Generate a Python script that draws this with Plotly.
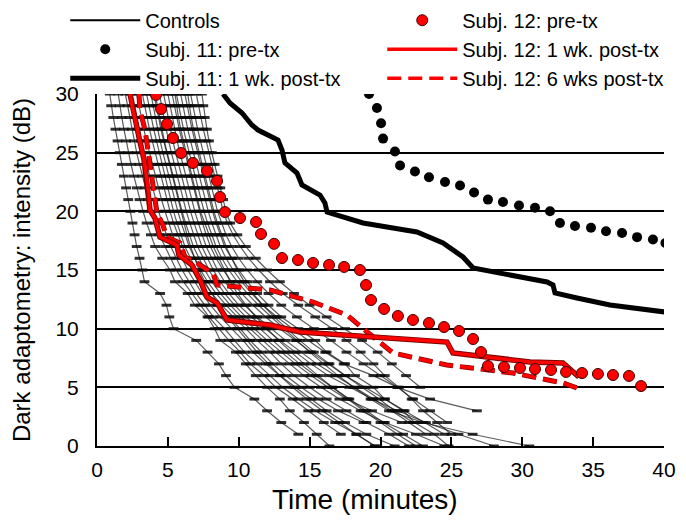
import plotly.graph_objects as go

# ---------------- data ----------------
DB_LEVELS = [30, 29, 28, 27, 26, 25, 24, 23, 22, 21, 20, 19, 18, 17, 16, 15,
             14, 13, 12, 11, 10, 9, 8, 7, 6, 5, 4, 3, 2, 1, 0]

# Control subjects: time (min) at each successive dB threshold level
controls = [
    [0.9,1.0,1.15,1.3,1.45,1.6,1.75,1.9,2.05,2.2,2.35,2.5,2.65,2.8,3.0,3.2,3.35,4.45,4.9,5.1,5.4,7.0,7.8,8.6,9.1,9.7,11.1,12.0,13.0,14.2],
    [1.5,1.6,1.75,1.9,2.05,2.2,2.4,2.6,2.8,3.0,3.25,3.5,3.8,4.1,4.6,5.15,5.5,6.4,6.9,7.8,8.3,8.7,9.8,10.5,11.2,12.0,12.9,13.6,14.6,15.5,16.4],
    [2.0,2.15,2.3,2.45,2.6,2.8,3.0,3.2,3.4,3.6,3.85,4.1,4.4,4.8,5.2,5.6,6.1,6.7,7.3,7.9,8.6,9.3,10.1,10.8,11.8,12.6,13.8,14.9,16.0,17.2],
    [2.4,2.55,2.7,2.9,3.1,3.3,3.5,3.7,3.9,4.1,4.35,4.6,4.9,5.2,5.6,6.0,6.5,7.0,7.6,8.2,9.0,9.7,10.4,11.3,12.2,13.1,14.2,15.4,16.8,18.3,19.6],
    [2.8,2.95,3.1,3.3,3.5,3.7,3.9,4.1,4.3,4.55,4.8,5.05,5.3,5.6,6.0,6.4,6.9,7.4,8.0,8.7,9.5,10.3,11.0,11.9,12.9,14.0,15.1,16.2,17.5,19.0,21.0],
    [3.2,3.35,3.5,3.7,3.9,4.1,4.3,4.5,4.7,4.9,5.15,5.4,5.7,6.0,6.35,6.7,7.2,7.8,8.5,9.3,10.1,10.8,11.6,12.4,13.3,14.4,15.6,17.0,18.8],
    [3.5,3.65,3.8,4.0,4.2,4.4,4.55,4.75,4.95,5.15,5.4,5.65,5.9,6.2,6.6,7.0,7.5,8.1,8.8,9.6,10.5,11.3,12.2,13.0,13.9,15.0,16.2,17.6,19.0,20.6,22.0],
    [3.8,3.95,4.1,4.3,4.45,4.65,4.85,5.05,5.25,5.45,5.7,5.95,6.2,6.5,6.9,7.3,7.8,8.4,9.1,9.9,10.8,11.7,12.6,13.6,14.6,15.8,17.1,18.6,20.3,22.5,24.5],
    [4.1,4.25,4.4,4.55,4.75,4.95,5.15,5.35,5.55,5.8,6.0,6.25,6.5,6.8,7.2,7.6,8.1,8.7,9.4,10.2,11.1,12.0,13.0,14.0,15.1,16.3,17.6,19.4,21.5],
    [4.4,4.55,4.7,4.85,5.05,5.25,5.45,5.65,5.85,6.05,6.3,6.55,6.8,7.1,7.5,7.9,8.4,9.0,9.7,10.5,11.5,12.4,13.3,14.3,15.4,16.6,17.8,19.0,20.2,21.6,23.0],
    [4.7,4.85,5.0,5.15,5.35,5.55,5.75,5.95,6.15,6.35,6.6,6.85,7.1,7.4,7.8,8.2,8.7,9.3,10.0,10.9,11.9,12.9,14.0,15.1,16.3,17.8,19.4,21.2,23.2,25.5,28.0],
    [5.0,5.15,5.3,5.45,5.65,5.85,6.05,6.25,6.45,6.65,6.9,7.15,7.4,7.7,8.1,8.5,9.0,9.7,10.4,11.3,12.3,13.3,14.4,15.5,16.8,18.2,19.5,20.8,22.0,23.2],
    [5.3,5.45,5.6,5.8,6.0,6.2,6.4,6.6,6.8,7.0,7.2,7.45,7.7,8.0,8.4,8.9,9.5,10.2,11.0,11.9,12.9,14.0,15.1,16.3,17.5,18.9,20.3,21.7,23.0,24.5],
    [5.6,5.75,5.9,6.1,6.3,6.5,6.7,6.9,7.1,7.3,7.55,7.8,8.1,8.4,8.8,9.3,9.9,10.6,11.4,12.3,13.2,14.1,15.0,16.0,17.0,18.1,19.3,20.6,23.0,26.5,30.5],
    [5.9,6.05,6.2,6.4,6.6,6.8,7.0,7.2,7.4,7.6,7.85,8.1,8.4,8.7,9.1,9.6,10.2,10.9,11.7,12.7,13.8,14.9,16.1,17.4,19.5,21.2,23.5,26.8],
    [6.2,6.35,6.5,6.7,6.9,7.1,7.3,7.5,7.7,7.9,8.15,8.4,8.7,9.0,9.5,10.0,10.6,11.3,12.1,13.0,14.2,15.4,16.2,17.5,18.2,19.5,20.3,21.6,22.4,23.8,24.8],
    [6.6,6.75,6.9,7.1,7.3,7.5,7.65,7.85,8.05,8.3,8.5,8.8,9.1,9.5,10.0,10.6,11.3,12.1,13.0,14.1,15.3,16.5,17.6,18.8,20.0,21.2,22.3,23.5,24.7],
    [7.0,7.15,7.3,7.5,7.7,7.9,8.1,8.3,8.5,8.7,8.9,9.2,9.6,10.1,10.7,11.4,12.2,13.1,14.2,15.4,16.6,17.6,18.6,19.5,20.3,21.3,22.2,23.0,24.0,25.0],
    [7.4,7.5,7.6,7.75,7.9,8.1,8.3,8.5,8.7,8.9,9.1,9.4,9.9,10.5,11.2,12.0,12.9,13.9,15.0,16.2,17.5,18.7,19.8,20.8,21.8,22.8],
    [4.0,4.2,4.35,4.5,4.7,4.9,5.1,5.3,5.5,5.7,5.9,6.1,6.35,6.6,6.9,7.2,7.6,8.1,8.6,9.2,9.9,10.6,11.3,12.1,12.9,13.8,14.8,15.9,17.1,18.3,19.6],
    [5.5,5.6,5.75,5.9,6.1,6.3,6.5,6.7,6.9,7.1,7.3,7.6,7.9,8.2,8.6,9.0,9.4,9.9,10.5,11.2,12.0,12.8,13.7,14.6,15.6,16.6,17.7,18.8,20.0,21.2,22.5],
    [6.4,6.5,6.65,6.8,7.0,7.2,7.4,7.6,7.8,8.0,8.25,8.5,8.8,9.1,9.5,9.9,10.4,11.0,11.7,12.5,13.4,14.3,15.3,16.4,17.5,18.7,19.9,21.0,22.3],
]

s11_pre_x = [19.19,19.75,20.04,20.18,21.02,21.38,22.43,23.42,24.55,25.61,26.60,27.58,
             28.64,29.77,30.90,31.96,32.66,33.72,34.85,35.91,37.04,38.10,39.22,40.10]
s11_pre_y = [30.0,28.8,27.5,26.2,25.1,23.9,23.4,22.9,22.5,22.2,21.6,21.0,
             20.8,20.5,20.3,20.0,19.0,18.75,18.6,18.3,18.15,17.8,17.6,17.3]

s11_1wk_x = [8.89,9.38,10.23,10.93,11.36,12.77,13.05,13.26,14.11,14.46,15.73,16.08,16.23,
             17.14,18.77,20.88,22.57,24.41,25.82,26.53,27.94,31.75,32.17,32.31,33.86,36.19,40.07]
s11_1wk_y = [30.0,29.23,28.38,27.36,26.93,26.08,25.23,24.12,23.27,22.24,21.39,20.71,19.94,
             19.60,19.01,18.58,18.24,17.30,16.11,15.17,14.83,13.98,13.72,13.04,12.61,12.02,11.42]

s12_pre_x = [4.16,4.52,4.94,5.36,5.93,6.77,7.76,8.47,8.68,9.03,10.09,11.22,11.57,12.49,13.05,
             14.18,15.24,16.37,17.43,18.55,18.98,19.33,20.25,21.23,22.29,23.42,24.48,25.54,
             26.53,27.09,27.58,28.71,29.84,30.90,32.03,33.09,34.22,35.34,36.40,37.53,38.38]
s12_pre_y = [29.92,28.72,27.44,26.25,24.97,24.12,23.44,22.59,21.22,19.94,19.43,19.09,18.07,17.23,16.02,
             15.85,15.60,15.43,15.26,15.0,13.72,12.44,11.68,11.08,10.74,10.48,10.14,9.80,
             9.12,8.01,6.82,6.73,6.65,6.56,6.48,6.31,6.22,6.14,6.05,5.97,5.11]

s12_1wk_x = [2.33,2.54,2.96,3.32,3.60,3.74,4.09,4.44,5.64,5.78,6.70,6.91,7.27,7.76,8.47,
             9.17,12.20,14.32,24.69,25.11,27.02,30.55,32.87,34.00]
s12_1wk_y = [30.0,28.64,26.34,24.38,22.07,20.11,19.43,17.81,17.13,16.28,15.43,15.0,14.15,12.70,12.19,
             10.74,10.31,9.72,8.86,7.93,7.67,7.16,7.07,5.88]

s12_6wk_x = [2.96,3.03,3.39,3.67,4.02,4.23,4.59,4.94,5.86,6.21,7.05,7.76,8.18,8.47,12.20,
             15.24,17.64,19.05,20.88,24.69,29.35,32.87,34.29]
s12_6wk_y = [30.0,28.64,26.93,24.63,21.82,19.86,19.01,17.81,17.30,16.11,15.60,15.0,14.74,13.72,13.30,
             12.27,11.16,9.72,7.93,6.90,6.22,5.37,4.77]

x_ticks = [0, 5, 10, 15, 20, 25, 30, 35, 40]
y_ticks = [0, 5, 10, 15, 20, 25, 30]

# ---------------- figure ----------------
FONT = "Liberation Sans, Arial, sans-serif"

cx, cy = [], []
for xs in controls:
    cx += xs + [None]
    cy += DB_LEVELS[:len(xs)] + [None]

fig = go.Figure()

fig.add_trace(go.Scatter(
    x=cx, y=cy, mode="lines+markers", showlegend=False, hoverinfo="skip",
    line=dict(color="rgba(20,20,20,0.7)", width=1.2),
    marker=dict(symbol="line-ew", size=7, line=dict(width=3, color="rgba(10,10,10,0.85)")),
))
fig.add_trace(go.Scatter(
    x=[None], y=[None], mode="lines", name="Controls", legendrank=1,
    line=dict(color="black", width=2),
))
fig.add_trace(go.Scatter(
    x=s11_pre_x, y=s11_pre_y, mode="markers", name="Subj. 11: pre-tx", legendrank=3,
    marker=dict(color="black", size=10),
))
fig.add_trace(go.Scatter(
    x=s11_1wk_x, y=s11_1wk_y, mode="lines", name="Subj. 11: 1 wk. post-tx", legendrank=5,
    line=dict(color="black", width=5),
))
fig.add_trace(go.Scatter(
    x=s12_6wk_x, y=s12_6wk_y, mode="lines", showlegend=False, hoverinfo="skip",
    line=dict(color="#8a0000", width=5, dash="14px,7px"),
))
fig.add_trace(go.Scatter(
    x=s12_6wk_x, y=s12_6wk_y, mode="lines", name="Subj. 12: 6 wks post-tx", legendrank=6,
    line=dict(color="#ff0000", width=3.5, dash="14px,7px"),
))
fig.add_trace(go.Scatter(
    x=s12_1wk_x, y=s12_1wk_y, mode="lines", showlegend=False, hoverinfo="skip",
    line=dict(color="#7a0000", width=5.5),
))
fig.add_trace(go.Scatter(
    x=s12_1wk_x, y=s12_1wk_y, mode="lines", name="Subj. 12: 1 wk. post-tx", legendrank=4,
    line=dict(color="#ff0000", width=3.5),
))
fig.add_trace(go.Scatter(
    x=s12_pre_x, y=s12_pre_y, mode="markers", name="Subj. 12: pre-tx", legendrank=2,
    marker=dict(color="#ff0000", size=11, line=dict(color="#400000", width=1)),
))

fig.update_layout(
    width=678, height=513,
    margin=dict(l=89, r=22, t=86, b=75, pad=0, autoexpand=False),
    paper_bgcolor="white", plot_bgcolor="white",
    font=dict(family=FONT, size=20, color="black"),
    showlegend=True,
    legend=dict(
        orientation="h", x=-0.056, y=1.265, xanchor="left", yanchor="top",
        entrywidth=232, entrywidthmode="pixels", itemwidth=70,
        font=dict(family=FONT, size=20, color="black"),
        bgcolor="rgba(0,0,0,0)", traceorder="normal",
    ),
    xaxis=dict(
        range=[0, 40], tickvals=x_ticks, ticks="inside", ticklen=9, tickwidth=1.5,
        tickcolor="black", showgrid=False, zeroline=False, showline=True,
        linecolor="black", linewidth=2, fixedrange=True, ticklabelstandoff=4,
        tickfont=dict(family=FONT, size=21),
    ),
    yaxis=dict(
        range=[0, 30], tickvals=y_ticks, ticks="", showgrid=True, gridcolor="black",
        gridwidth=2, zeroline=False, showline=True, linecolor="black", linewidth=2,
        fixedrange=True, ticklabelstandoff=12,
        title=dict(text="Dark adaptometry: intensity (dB)", font=dict(family=FONT, size=24), standoff=18),
        tickfont=dict(family=FONT, size=21),
    ),
    annotations=[dict(
        text="Time (minutes)", xref="paper", yref="paper", x=0.473, y=-0.103,
        xanchor="center", yanchor="top", showarrow=False,
        font=dict(family=FONT, size=28, color="black"),
    )],
)

fig.write_html("out.html")
